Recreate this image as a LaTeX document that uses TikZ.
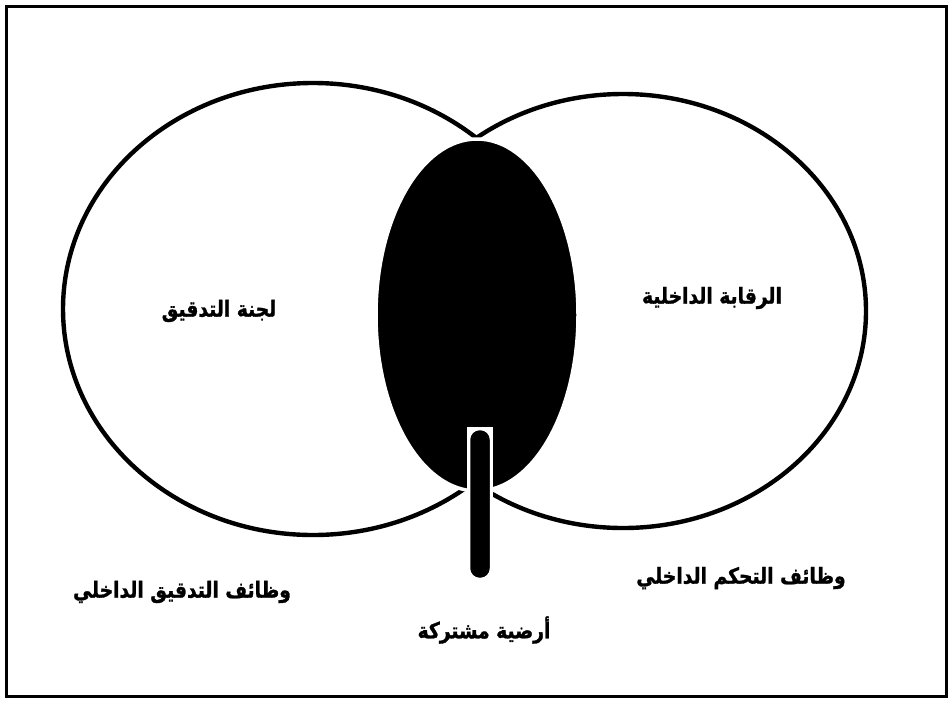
\documentclass[tikz,border=0pt]{standalone}
\usepackage{fontspec}
\usepackage{graphicx}
\usetikzlibrary{shapes.geometric}
\newfontfamily\arabicfont[Script=Arabic, BoldFeatures={FakeBold=1.5}]{DejaVu Sans}
\TeXXeTstate=1
\newcommand{\artxt}[1]{\scalebox{1}[1.18]{\beginR #1\endR}}
\begin{document}
\begin{tikzpicture}[x=1pt,y=-1pt,
  lbl/.style={inner sep=0pt, font=\arabicfont\bfseries\fontsize{18.7}{22}\selectfont},
  ring/.style={draw=black, line width=4.4pt}]
\useasboundingbox (0,0) rectangle (952,702);
\fill[white] (0,0) rectangle (952,702);
\node[draw=black, line width=3pt, minimum width=940pt, minimum height=690pt, inner sep=0pt] (frame) at (476,351) {};
\node[ring, ellipse, minimum width=500pt, minimum height=452pt, inner sep=0pt] (left) at (313,309) {};
\node[ring, ellipse, minimum width=486pt, minimum height=434pt, inner sep=0pt] (right) at (623,311) {};
\path[fill=black, draw=white, line width=3.5pt] (477,315) ellipse [x radius=101, y radius=176];
\fill[white] (467,427) rectangle (493,500);
\node[fill=black, draw=white, line width=1.5pt, rounded corners=10pt, minimum width=21pt, minimum height=149pt, inner sep=0pt] (bar) at (480,504) {};
\node[lbl] (t1) at (219,311) {\artxt{لجنة التدقيق}};
\node[lbl] (t2) at (712,298) {\artxt{الرقابة الداخلية}};
\node[lbl] (t3) at (182,592) {\artxt{وظائف التدقيق الداخلي}};
\node[lbl] (t4) at (741,578) {\artxt{وظائف التحكم الداخلي}};
\node[lbl] (t5) at (484,630) {\artxt{أرضية مشتركة}};
\end{tikzpicture}
\end{document}
